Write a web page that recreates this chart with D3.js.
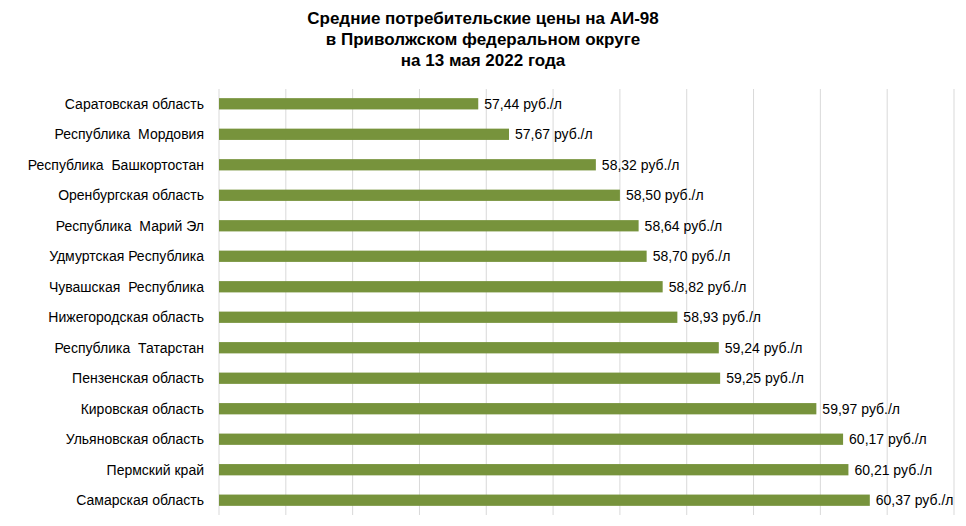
<!DOCTYPE html>
<html>
<head>
<meta charset="utf-8">
<script src="https://cdn.jsdelivr.net/npm/d3@7"></script>
<style>
  body { margin: 0; background: #fff; font-family: "Liberation Sans", Arial, sans-serif; }
</style>
</head>
<body>
<div id="chart"></div>
<script>
const regions = [
  'Саратовская область', 'Республика  Мордовия', 'Республика  Башкортостан',
  'Оренбургская область', 'Республика  Марий Эл', 'Удмуртская Республика',
  'Чувашская  Республика', 'Нижегородская область', 'Республика  Татарстан',
  'Пензенская область', 'Кировская область', 'Ульяновская область',
  'Пермский край', 'Самарская область'
];
const prices = [57.44, 57.67, 58.32, 58.50, 58.64, 58.70, 58.82, 58.93, 59.24, 59.25, 59.97, 60.17, 60.21, 60.37];
const titleLines = [
  'Средние потребительские цены на АИ-98',
  'в Приволжском федеральном округе',
  'на 13 мая 2022 года'
];
const gridTicks = d3.range(55.5, 61.01, 0.5);

const width = 966, height = 526;
const margin = { top: 89, right: 12, bottom: 11, left: 219 };

const svg = d3.select('#chart').append('svg')
  .attr('width', width)
  .attr('height', height);

const x = d3.scaleLinear().domain([55.5, 61]).range([margin.left, 954]);
const y = d3.scaleBand().domain(regions).range([margin.top, height - margin.bottom]).paddingInner(0.63).paddingOuter(0.3);

// Title
svg.append('g').selectAll('text')
  .data(titleLines)
  .join('text')
  .attr('x', 483)
  .attr('y', (d, i) => 24 + i * 21)
  .attr('text-anchor', 'middle')
  .style('font-size', '17px')
  .style('font-weight', 'bold')
  .text(d => d);

// Gridlines
svg.append('g').selectAll('line')
  .data(gridTicks)
  .join('line')
  .attr('x1', d => x(d)).attr('x2', d => x(d))
  .attr('y1', margin.top).attr('y2', height - margin.bottom)
  .attr('stroke', '#d9d9d9')
  .attr('stroke-width', 1);

// Bars
svg.append('g').selectAll('rect')
  .data(prices)
  .join('rect')
  .attr('x', x(55.5))
  .attr('y', (d, i) => y(regions[i]))
  .attr('width', d => x(d) - x(55.5))
  .attr('height', y.bandwidth())
  .attr('fill', '#77933c');

// Value labels
svg.append('g').selectAll('text')
  .data(prices)
  .join('text')
  .attr('x', d => x(d) + 6)
  .attr('y', (d, i) => y(regions[i]) + y.bandwidth() / 2)
  .attr('dy', '0.35em')
  .style('font-size', '14px')
  .text(d => d.toFixed(2).replace('.', ',') + ' руб./л');

// Category labels
svg.append('g').selectAll('text')
  .data(regions)
  .join('text')
  .attr('x', 204)
  .attr('y', d => y(d) + y.bandwidth() / 2)
  .attr('dy', '0.35em')
  .attr('text-anchor', 'end')
  .style('font-size', '14px')
  .style('white-space', 'pre')
  .attr('xml:space', 'preserve')
  .text(d => d);
</script>
</body>
</html>
